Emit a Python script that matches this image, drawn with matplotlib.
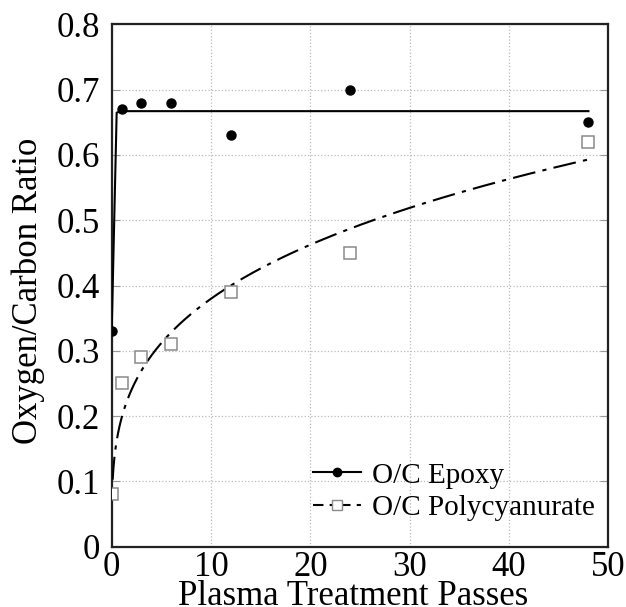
import numpy as np
import matplotlib
matplotlib.use("Agg")
import matplotlib.pyplot as plt
from matplotlib.lines import Line2D

passes = [0, 1, 3, 6, 12, 24, 48]
epoxy = [0.33, 0.67, 0.68, 0.68, 0.63, 0.70, 0.65]
polycyanurate = [0.08, 0.25, 0.29, 0.31, 0.39, 0.45, 0.62]

# fit parameters
epoxy_plateau, epoxy_start, epoxy_rate = 0.667, 0.33, 10.0
poly_a, poly_b = 0.1975, 0.284

xticks = [0, 10, 20, 30, 40, 50]
yticks = [0, 0.1, 0.2, 0.3, 0.4, 0.5, 0.6, 0.7, 0.8]
ytick_labels = ["0", "0.1", "0.2", "0.3", "0.4", "0.5", "0.6", "0.7", "0.8"]

plt.rcParams['font.family'] = ['Liberation Serif', 'DejaVu Serif']

W, H = 626, 607
L, R, T, B = 111.7, 608.3, 24.3, 546.7
fig = plt.figure(figsize=(W / 100, H / 100), dpi=100)
ax = fig.add_axes([L / W, 1 - B / H, (R - L) / W, (B - T) / H])

xf1 = np.arange(0, 48.01, 0.5)
yf1 = epoxy_plateau - (epoxy_plateau - epoxy_start) * np.exp(-epoxy_rate * xf1)
xf2 = np.linspace(0.1, 48, 2000)
yf2 = poly_a * xf2 ** poly_b

ax.plot(xf1, yf1, color='black', lw=1.5, zorder=3)
ax.plot(xf2, yf2, color='black', lw=1.5, dashes=(11, 3.5, 2, 3.5), zorder=3)
ax.plot(passes, epoxy, 'o', color='black', ms=6.5, zorder=4)
ax.plot(passes, polycyanurate, 's', mfc='white', mec='#8a8a8a', mew=1.1, ms=8.5, zorder=4)

h1 = Line2D([], [], color='black', lw=1.5, marker='o', ms=6)
h2 = Line2D([], [], color='black', lw=1.5, dashes=(5, 3, 2, 3), marker='s', ms=7.5,
            mfc='white', mec='#8a8a8a')
ax.legend([h1, h2], ["O/C Epoxy", "O/C Polycyanurate"], loc='lower right',
          bbox_to_anchor=(1.014, 0.0104), frameon=False, fontsize=21,
          handlelength=1.65, handletextpad=0.38, labelspacing=0.2, borderaxespad=0.3)

ax.set_xlim(0, 50)
ax.set_ylim(0, 0.8)
ax.set_xticks(xticks)
ax.set_yticks(yticks)
ax.set_yticklabels(ytick_labels)
ax.grid(True, color='#bbbbbb', ls=':', lw=0.9)
ax.tick_params(axis='y', direction='in', length=6, width=0.8, labelsize=25, pad=8.4,
               right=True, color='#999999')
ax.tick_params(axis='x', direction='in', length=0, labelsize=25, pad=3, top=False)
for s in ax.spines.values():
    s.set_linewidth(1.6)
    s.set_color('#222222')
ax.set_xlabel("Plasma Treatment Passes", fontsize=25, labelpad=-2.5)
ax.set_ylabel("Oxygen/Carbon Ratio", fontsize=25, labelpad=8)
ax.xaxis.label.set_x(0.487)
ax.yaxis.label.set_y(0.489)

fig.savefig("out.png", dpi=100)
